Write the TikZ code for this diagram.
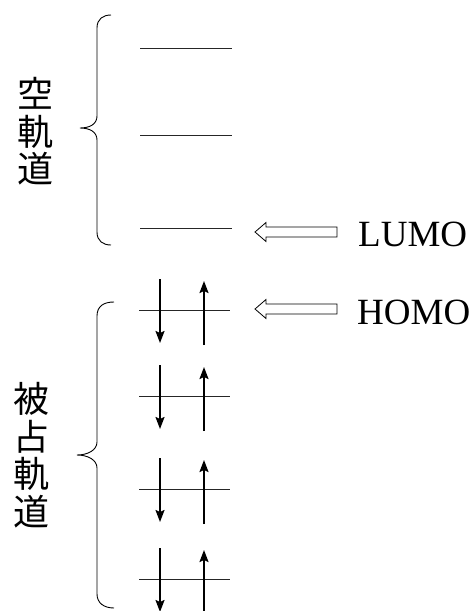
\documentclass[tikz,border=0pt]{standalone}
\usepackage{fontspec}
\setmainfont{Liberation Serif}
\newfontfamily\cjk{Noto Sans CJK JP}
\usetikzlibrary{arrows.meta}
\begin{document}
\begin{tikzpicture}[x=1pt,y=-1pt,
  level/.style={line width=1pt, draw=black!85},
  espin/.style={line width=1.8pt, -{Stealth[length=12pt,width=9pt,inset=2pt]}},
  hollow/.style={draw, line width=0.8pt, fill=white},
  bracep/.style={line width=0.9pt},
  lbl/.style={font=\fontsize{37}{37}\selectfont, inner sep=0pt, anchor=base west},
  jp/.style={font=\cjk\fontsize{36}{37.5}\selectfont, align=center, inner sep=0pt}]
\useasboundingbox (0,0) rectangle (472,611);

% empty orbitals
\foreach \n/\y in {e1/48, e2/135, e3/228}{
  \coordinate (\n L) at (140,\y);
  \coordinate (\n R) at (232,\y);
  \draw[level] (\n L) -- (\n R);
}
% occupied orbitals
\foreach \n/\y in {o1/310, o2/396, o3/489, o4/579}{
  \coordinate (\n L) at (139,\y);
  \coordinate (\n R) at (230,\y);
  \draw[level] (\n L) -- (\n R);
  \coordinate (\n dA) at (160,\y-31);
  \coordinate (\n dB) at (160,\y+33);
  \coordinate (\n uA) at (204,\y+35);
  \coordinate (\n uB) at (204,\y-29);
  \draw[espin] (\n dA) -- (\n dB);
  \draw[espin] (\n uA) -- (\n uB);
}

% hollow arrows
\foreach \n/\y in {lumoarr/232, homoarr/309}{
  \coordinate (\n) at (255,\y);
  \draw[hollow] (\n) -- ++(11,-9.5) -- ++(0,4.5) -- ++(71,0) -- ++(0,10)
    -- ++(-71,0) -- ++(0,4.5) -- cycle;
}
\node[lbl] (lumo) at (358,246) {LUMO};
\node[lbl] (homo) at (357,324) {HOMO};

% braces
\draw[bracep] (111,15) .. controls (103,15) and (97,19) .. (97,28)
  -- (97,116) .. controls (97,124) and (90,128) .. (80,128)
  .. controls (90,128) and (97,132) .. (97,140)
  -- (97,232) .. controls (97,241) and (103,245) .. (111,245);
\draw[bracep] (114,302) .. controls (104,302) and (97,306) .. (97,316)
  -- (97,442) .. controls (97,450) and (88,455) .. (77,455)
  .. controls (88,455) and (97,460) .. (97,468)
  -- (97,594) .. controls (97,603) and (104,608) .. (114,608);

% labels
\node[jp] (empty) at (35,131.5) {空\\軌\\道};
\node[jp] (occ) at (31,455) {被\\占\\軌\\道};
\end{tikzpicture}
\end{document}
